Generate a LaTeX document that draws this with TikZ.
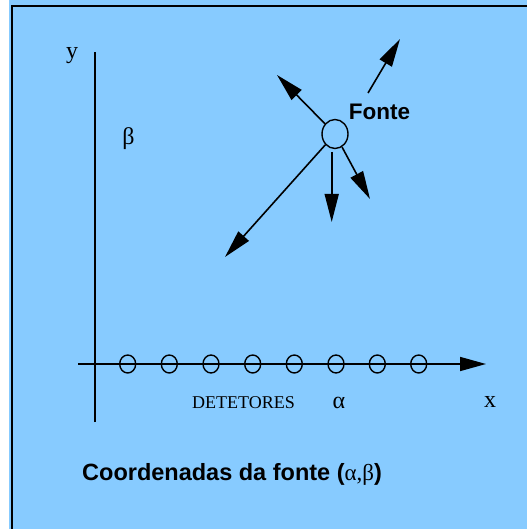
\documentclass[tikz,border=0pt]{standalone}
\usepackage{fontspec}
\setmainfont{Liberation Serif}
\setsansfont{Liberation Sans}
\usetikzlibrary{arrows.meta,shapes.geometric}
\definecolor{bgblue}{RGB}{135,203,255}
\begin{document}
\begin{tikzpicture}[x=1pt,y=-1pt,
  ln/.style={line width=1.6pt,black},
  bigarrow/.style={ln,-{Triangle[length=28pt,width=14pt]}},
  det/.style={ellipse,draw,line width=1.4pt,minimum width=16pt,minimum height=18pt,inner sep=0pt},
  srcnode/.style={ellipse,draw,line width=1.4pt,minimum width=26pt,minimum height=29pt,inner sep=0pt},
  serif/.style={font=\fontsize{24}{28}\selectfont},
  lbl/.style={font=\fontsize{18}{22}\selectfont},
  boldsans/.style={font=\sffamily\bfseries\fontsize{22.5}{26}\selectfont}]
\useasboundingbox (0,0) rectangle (527,529);
\fill[bgblue] (0,0) rectangle (527,529);
\fill[white] (0,0) rectangle (9,529);
\draw[line width=2pt,black] (12,529) -- (12,6) -- (527,6);

% axes
\coordinate (yt) at (95,52);
\coordinate (yb) at (95,422);
\coordinate (xs) at (78,364);
\coordinate (xe) at (486,364);
\draw[ln] (yb) -- (yt);
\draw[ln,-{Triangle[length=26pt,width=14pt]}] (xs) -- (xe);

% detectors
\foreach \i/\x in {1/127.7,2/169.3,3/211,4/252.7,5/294.3,6/336,7/377.3,8/418.7}
  \node[det] (d\i) at (\x,364) {};

% source
\node[srcnode] (src) at (335,134) {};
\coordinate (t1) at (277,75);
\coordinate (a2s) at (368,93);
\coordinate (t2) at (400,39);
\coordinate (a3s) at (331.7,152);
\coordinate (t3) at (331.7,222);
\coordinate (t4) at (370,199);
\coordinate (t5) at (225,257);
\draw[bigarrow] (src) -- (t1);
\draw[bigarrow] (a2s) -- (t2);
\draw[bigarrow] (a3s) -- (t3);
\draw[bigarrow] (src) -- (t4);
\draw[bigarrow] (src) -- (t5);

% labels
\node[boldsans,anchor=base] (fonte) at (379.5,120) {Fonte};
\node[serif,anchor=base] (ylbl) at (72,59) {y};
\node[serif,anchor=base] (beta) at (128.5,145) {β};
\node[lbl,anchor=base] (detlbl) at (243.5,408) {DETETORES};
\node[serif,anchor=base] (alpha) at (339,408) {α};
\node[serif,anchor=base] (xlbl) at (490,407) {x};
\node[anchor=base west,inner sep=0pt] (cap) at (82,480)
  {{\sffamily\bfseries\fontsize{23.5}{28}\selectfont Coordenadas da fonte (}{\fontsize{23}{28}\selectfont α,β}{\sffamily\bfseries\fontsize{23.5}{28}\selectfont )}};
\end{tikzpicture}
\end{document}
